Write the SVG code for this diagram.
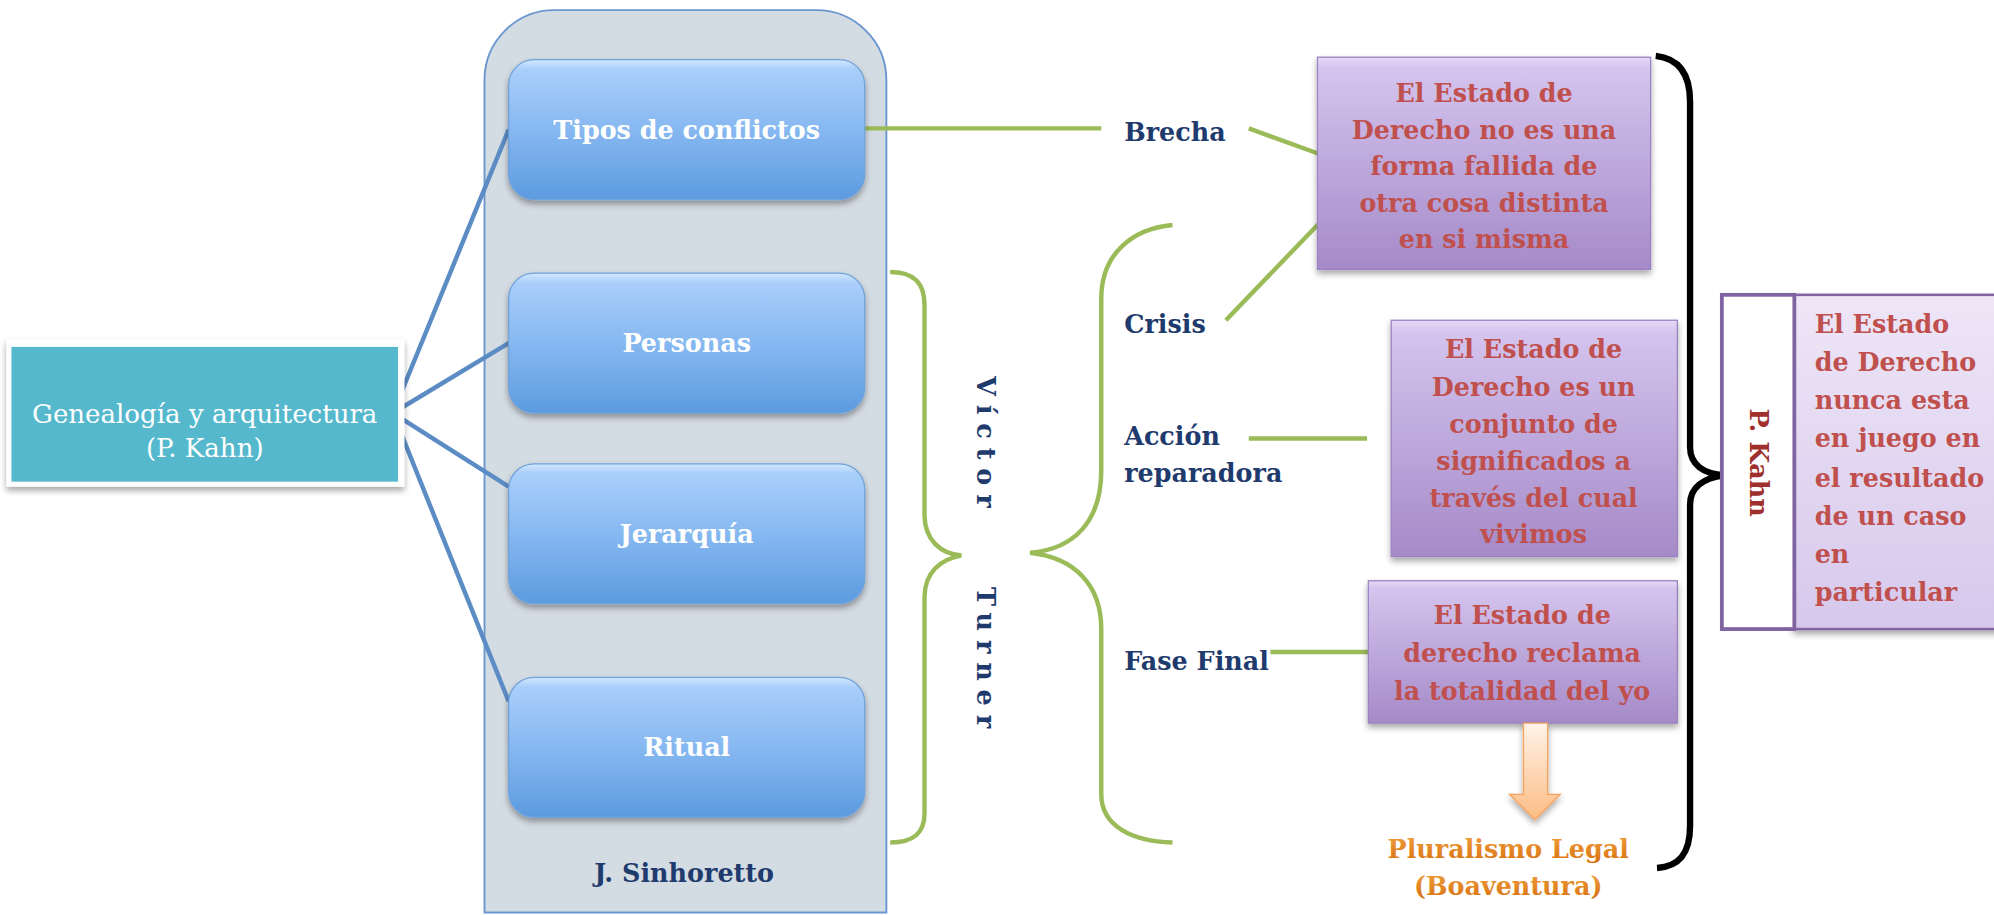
<svg xmlns="http://www.w3.org/2000/svg" width="1994" height="915" viewBox="0 0 1994 915">
<defs>
<linearGradient id="gBlue" x1="0" y1="0" x2="0" y2="1">
<stop offset="0" stop-color="#D2E8FF"/>
<stop offset="0.07" stop-color="#A9CEFA"/>
<stop offset="0.5" stop-color="#86B8F1"/>
<stop offset="1" stop-color="#5C9BDF"/>
</linearGradient>
<linearGradient id="gPurple" x1="0" y1="0" x2="0" y2="1">
<stop offset="0" stop-color="#E6DAF6"/>
<stop offset="0.05" stop-color="#D4C4EE"/>
<stop offset="1" stop-color="#A58AC8"/>
</linearGradient>
<linearGradient id="gLav" x1="0" y1="0" x2="0" y2="1">
<stop offset="0" stop-color="#EEE6F7"/>
<stop offset="1" stop-color="#D6C8EC"/>
</linearGradient>
<linearGradient id="gArrow" x1="0" y1="0" x2="0" y2="1">
<stop offset="0" stop-color="#FFF3E8"/>
<stop offset="1" stop-color="#FCBC84"/>
</linearGradient>
<linearGradient id="gOrange" x1="0" y1="0" x2="0" y2="1">
<stop offset="0" stop-color="#F0A040"/>
<stop offset="1" stop-color="#D8700E"/>
</linearGradient>
<filter id="sh" x="-10%" y="-10%" width="120%" height="130%">
<feDropShadow dx="0" dy="3" stdDeviation="2.5" flood-color="#000" flood-opacity="0.35"/>
</filter>
</defs>
<style>
.blue { fill: url(#gBlue); stroke: #6FA2DC; stroke-width: 1; filter: url(#sh); }
.purple { fill: url(#gPurple); stroke: #9C82C2; stroke-width: 1; filter: url(#sh); }
.wt { font-family: "DejaVu Serif", "Liberation Serif", serif; font-weight: bold; font-size: 20px; fill: #FFFFFF; text-anchor: middle; }
.red { font-family: "DejaVu Serif", "Liberation Serif", serif; font-weight: bold; font-size: 20px; fill: #C0504D; text-anchor: middle; }
.redl { font-family: "DejaVu Serif", "Liberation Serif", serif; font-weight: bold; font-size: 20px; fill: #C0504D; }
.navy { font-family: "DejaVu Serif", "Liberation Serif", serif; font-weight: bold; font-size: 20px; fill: #1F3B6E; }
.green { fill: none; stroke: #9BBB59; stroke-width: 3.5; stroke-linecap: butt; }
.bl { fill: none; stroke: #5B8CC4; stroke-width: 3.5; }
</style>
<g transform="scale(1.27168,1.27083)">
<g id="container">
<path d="M381,718 V63 A55,55 0 0 1 436,8 H642 A55,55 0 0 1 697,63 V718 Z" fill="#D4DCE3" stroke="#6A97CF" stroke-width="1.5"/>
<text class="navy" x="538" y="694" text-anchor="middle">J. Sinhoretto</text>
</g>
<g id="connectors">
<line class="bl" x1="309" y1="325" x2="400" y2="102"/>
<line class="bl" x1="309" y1="325" x2="400" y2="270"/>
<line class="bl" x1="309" y1="325" x2="400" y2="383"/>
<line class="bl" x1="309" y1="325" x2="400" y2="552"/>
<line class="green" x1="680" y1="101" x2="866" y2="101"/>
<line class="green" x1="982" y1="101" x2="1037" y2="121"/>
<line class="green" x1="964" y1="252" x2="1037" y2="176"/>
<line class="green" x1="982" y1="345" x2="1075" y2="345"/>
<line class="green" x1="999" y1="513" x2="1076" y2="513"/>
<path class="green" d="M700,214 C718,214 727,222 727,240 L727,405 C727,425 740,436 756,437 C740,440 727,450 727,470 L727,640 C727,656 718,663 700,663"/>
<path class="green" d="M922,177 C890,180 866,200 866,235 L866,370 C866,410 845,432 810,435 C845,439 866,460 866,495 L866,625 C866,650 890,662 922,663"/>
<path d="M1302,44 C1320,46 1329,58 1329,80 L1329,352 C1329,366 1340,373 1356,374 C1340,376 1329,383 1329,397 L1329,650 C1329,672 1320,682 1303,683" fill="none" stroke="#000" stroke-width="5"/>
</g>
<g id="genealogia">
<rect x="5" y="267" width="313" height="116" fill="#FFFFFF" filter="url(#sh)"/>
<rect x="9" y="273" width="304" height="106" fill="#55B8CC"/>
<text x="161" y="333" font-family="DejaVu Serif, Liberation Serif, serif" font-size="20.5" fill="#FFFFFF" text-anchor="middle">Genealogía y arquitectura</text>
<text x="161" y="360" font-family="DejaVu Serif, Liberation Serif, serif" font-size="20.5" fill="#FFFFFF" text-anchor="middle">(P. Kahn)</text>
</g>
<g id="tipos">
<rect class="blue" x="400" y="47" width="280" height="110" rx="20"/>
<text class="wt" x="540" y="109">Tipos de conflictos</text>
</g>
<g id="personas">
<rect class="blue" x="400" y="215" width="280" height="110" rx="20"/>
<text class="wt" x="540" y="277">Personas</text>
</g>
<g id="jerarquia">
<rect class="blue" x="400" y="365" width="280" height="110" rx="20"/>
<text class="wt" x="540" y="427">Jerarquía</text>
</g>
<g id="ritual">
<rect class="blue" x="400" y="533" width="280" height="110" rx="20"/>
<text class="wt" x="540" y="595">Ritual</text>
</g>
<g id="victor-turner">
<text class="navy" font-size="19" letter-spacing="7" transform="translate(768,296) rotate(90)">Víctor</text>
<text class="navy" font-size="19" letter-spacing="7" transform="translate(768,462) rotate(90)">Turner</text>
</g>
<g id="labels">
<text class="navy" x="884" y="111">Brecha</text>
<text class="navy" x="884" y="262">Crisis</text>
<text class="navy" x="884" y="350">Acción</text>
<text class="navy" x="884" y="379">reparadora</text>
<text class="navy" x="884" y="527">Fase Final</text>
</g>
<g id="estado1">
<rect class="purple" x="1036" y="45" width="262" height="167"/>
<text class="red" x="1167" y="80">El Estado de</text>
<text class="red" x="1167" y="109">Derecho no es una</text>
<text class="red" x="1167" y="138">forma fallida de</text>
<text class="red" x="1167" y="167">otra cosa distinta</text>
<text class="red" x="1167" y="195">en si misma</text>
</g>
<g id="estado2">
<rect class="purple" x="1094" y="252" width="225" height="186"/>
<text class="red" x="1206" y="282">El Estado de</text>
<text class="red" x="1206" y="312">Derecho es un</text>
<text class="red" x="1206" y="341">conjunto de</text>
<text class="red" x="1206" y="370">significados a</text>
<text class="red" x="1206" y="399">través del cual</text>
<text class="red" x="1206" y="427">vivimos</text>
</g>
<g id="estado3">
<rect class="purple" x="1076" y="457" width="243" height="112"/>
<text class="red" x="1197" y="491">El Estado de</text>
<text class="red" x="1197" y="521">derecho reclama</text>
<text class="red" x="1197" y="551">la totalidad del yo</text>
</g>
<g id="arrow">
<polygon points="1198,569 1217,569 1217,625 1227,625 1207,645 1187,625 1198,625" fill="url(#gArrow)" stroke="#F5A25E" stroke-width="1" filter="url(#sh)"/>
</g>
<g id="pluralismo">
<text class="navy" x="1186" y="675" text-anchor="middle" style="fill:url(#gOrange)">Pluralismo Legal</text>
<text class="navy" x="1186" y="704" text-anchor="middle" style="fill:url(#gOrange)">(Boaventura)</text>
</g>
<g id="kahn-box">
<rect x="1411" y="232" width="175" height="263" fill="url(#gLav)" stroke="#8064A2" stroke-width="2" filter="url(#sh)"/>
<rect x="1354" y="232" width="57" height="263" fill="#FFFFFF" stroke="#8064A2" stroke-width="3"/>
<text class="red" font-size="19" style="fill:#A0302E" transform="translate(1376,364) rotate(90)">P. Kahn</text>
<text class="redl" x="1427" y="262">El Estado</text>
<text class="redl" x="1427" y="292">de Derecho</text>
<text class="redl" x="1427" y="322">nunca esta</text>
<text class="redl" x="1427" y="352">en juego en</text>
<text class="redl" x="1427" y="383">el resultado</text>
<text class="redl" x="1427" y="413">de un caso</text>
<text class="redl" x="1427" y="443">en</text>
<text class="redl" x="1427" y="473">particular</text>
</g>
</g>
</svg>
